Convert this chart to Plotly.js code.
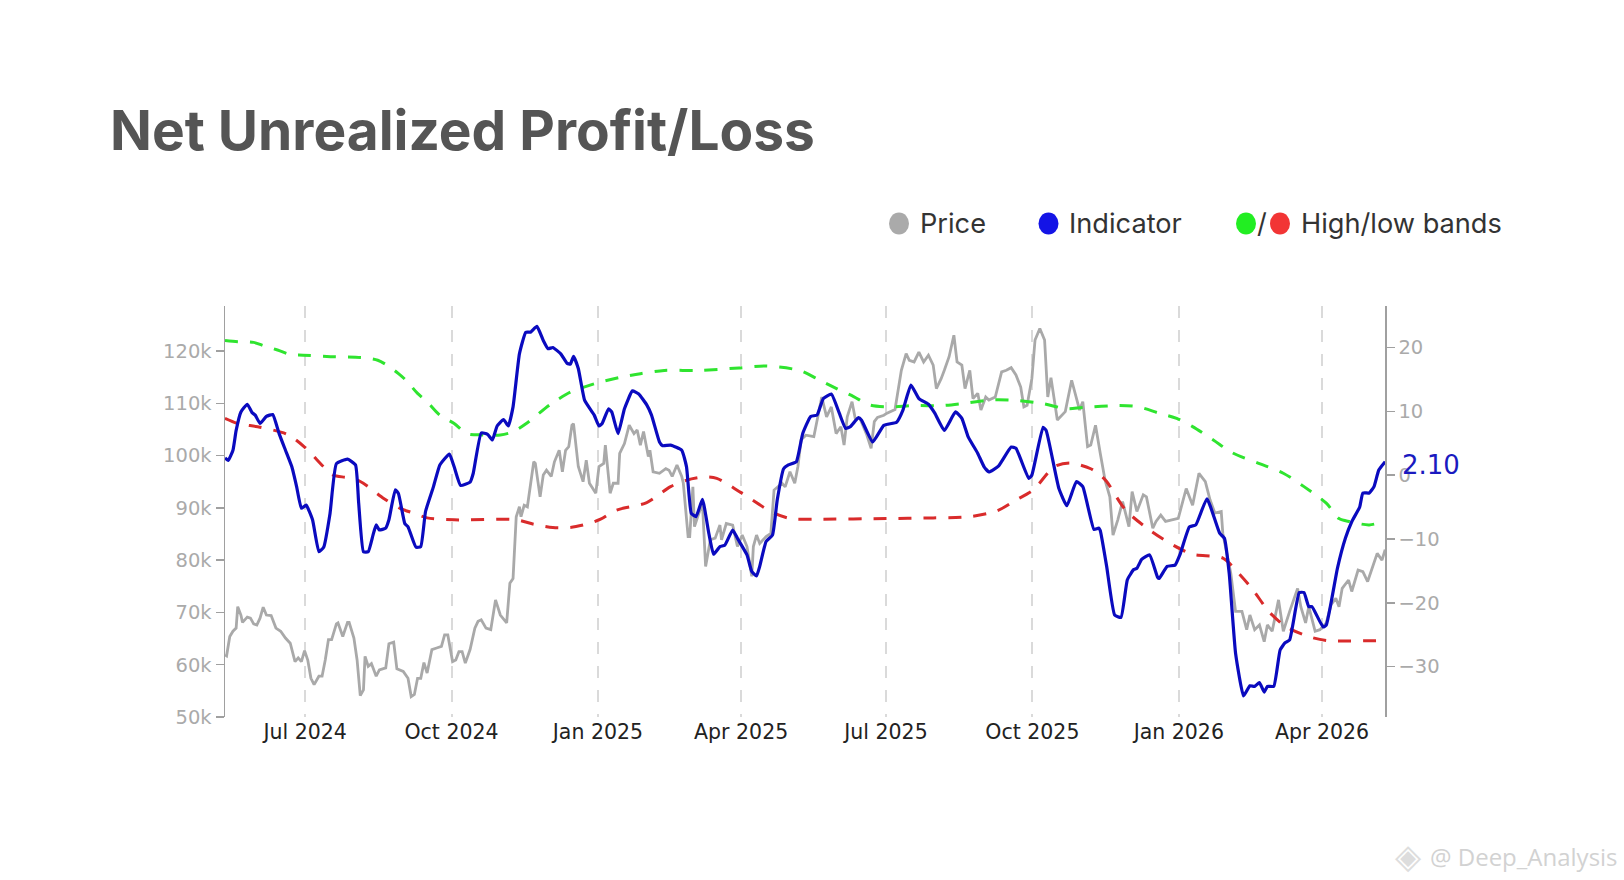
<!DOCTYPE html>
<html>
<head>
<meta charset="utf-8">
<script src="https://cdn.plot.ly/plotly-3.0.1.min.js"></script>
<style>html,body{margin:0;padding:0;background:#fff}</style>
</head>
<body>
<div id="chart" style="width:1624px;height:880px"></div>
<script>
// every point is [days since the first date, value]
const startDate = Date.UTC(2024, 4, 11, 16);
const pricePoints = [[0,61.9],[1,61.7],[3,65.4],[5,66.4],[7,67.0],[8,71.1],[10,69.5],[11,68.1],[14,69.1],[16,68.9],[18,67.8],[20,67.6],[22,68.9],[24,71.0],[26,69.5],[29,69.4],[32,67.0],[35,66.4],[38,65.1],[41,64.1],[44,60.6],[46,61.3],[48,60.6],[50,62.7],[52,60.9],[54,57.4],[56,56.2],[59,57.8],[61,57.8],[63,60.9],[65,64.8],[67,64.8],[70,67.8],[71,68.0],[74,65.4],[77,68.1],[78,68.1],[81,65.1],[83,60.9],[85,54.1],[87,55.2],[88,61.6],[90,59.7],[92,60.2],[93,59.4],[95,57.8],[97,59.0],[101,59.4],[103,64.0],[106,64.3],[108,59.2],[112,58.7],[115,57.4],[117,53.9],[119,54.3],[121,57.4],[123,57.4],[125,60.4],[127,58.4],[130,62.9],[133,63.2],[136,63.5],[138,65.7],[140,65.7],[143,60.6],[145,60.9],[147,62.5],[149,62.5],[151,60.3],[154,62.9],[157,67.0],[159,68.3],[161,68.6],[164,67.0],[167,66.7],[170,72.4],[173,69.5],[177,68.0],[179,75.6],[181,76.5],[183,88.3],[185,90.2],[186,88.3],[188,90.5],[190,90.2],[192,94.7],[194,98.8],[195,98.5],[198,92.1],[200,96.3],[202,97.2],[205,96.0],[207,98.8],[210,101.0],[212,96.9],[214,101.0],[216,101.7],[218,105.8],[219,106.1],[222,97.9],[225,95.0],[227,99.1],[229,94.7],[233,92.8],[235,97.9],[238,98.5],[239,102.0],[242,92.8],[244,94.7],[247,94.7],[248,100.4],[251,102.3],[252,103.6],[254,105.8],[257,104.2],[259,104.9],[261,102.0],[263,104.6],[266,99.8],[267,101.0],[269,96.9],[273,96.6],[277,97.5],[279,97.2],[281,96.0],[284,98.2],[287,96.0],[288,94.7],[291,84.5],[292,84.5],[294,94.0],[295,86.4],[297,88.3],[300,90.9],[302,78.8],[305,83.9],[308,84.2],[311,86.7],[312,83.9],[315,87.0],[319,86.7],[322,82.6],[325,84.8],[328,82.6],[331,76.9],[332,82.6],[334,84.8],[336,83.2],[340,84.5],[343,85.1],[345,93.4],[350,94.7],[352,94.0],[355,96.9],[358,94.7],[360,97.9],[362,103.0],[365,103.9],[370,103.6],[372,106.8],[375,111.2],[378,107.4],[381,109.3],[384,104.2],[387,105.5],[389,102.0],[391,107.4],[394,110.3],[396,107.1],[399,107.1],[403,104.2],[406,101.4],[408,106.5],[410,107.3],[414,107.7],[416,108.1],[421,108.8],[425,116.3],[428,119.5],[430,118.2],[433,117.9],[436,119.8],[439,117.9],[442,119.2],[445,117.3],[447,112.8],[450,114.7],[452,116.3],[455,118.9],[458,123.0],[460,117.9],[463,117.3],[465,112.8],[468,116.3],[470,110.9],[473,111.9],[475,108.7],[478,111.2],[480,110.6],[484,111.2],[488,116.0],[491,116.3],[494,116.8],[497,115.4],[500,113.1],[502,109.3],[504,109.6],[507,114.7],[509,122.1],[512,124.3],[515,122.1],[517,111.2],[519,114.9],[523,106.8],[528,108.4],[532,114.4],[537,108.7],[539,110.3],[542,101.7],[544,102.0],[547,105.8],[550,100.4],[553,95.3],[556,92.1],[558,84.8],[561,87.7],[564,91.2],[568,86.4],[570,93.1],[573,89.3],[577,92.5],[579,92.1],[583,86.1],[585,87.4],[588,88.6],[591,87.4],[595,87.7],[599,88.0],[604,93.7],[608,90.5],[612,96.6],[616,95.0],[619,91.5],[622,89.0],[626,89.3],[627,85.1],[632,77.5],[635,70.2],[639,70.2],[642,66.7],[644,69.5],[647,66.7],[650,67.6],[653,64.4],[655,67.6],[658,66.4],[662,72.4],[665,66.4],[669,70.2],[674,74.6],[676,71.1],[679,68.0],[681,71.1],[685,66.4],[688,66.7],[692,68.0],[695,71.5],[698,72.7],[700,71.1],[702,74.6],[706,76.2],[708,74.0],[712,78.1],[715,77.8],[718,75.9],[721,78.8],[724,81.3],[727,80.0],[729,82.0]];
const indicatorPoints = [[0,2.7],[2,2.3],[5,3.9],[7,7.0],[10,9.9],[14,11.1],[17,9.8],[19,9.4],[22,8.1],[26,9.2],[30,9.5],[34,6.5],[38,3.9],[42,1.3],[45,-1.8],[48,-5.2],[51,-4.7],[55,-7.0],[59,-12.0],[62,-11.3],[66,-6.0],[70,1.8],[77,2.5],[82,1.6],[84,-4.4],[87,-12.0],[90,-12.0],[93,-9.4],[95,-7.8],[97,-8.6],[101,-8.3],[103,-7.0],[107,-2.3],[109,-2.9],[113,-7.6],[115,-8.1],[120,-11.3],[123,-11.2],[126,-5.7],[131,-1.8],[135,1.6],[141,3.3],[144,1.3],[148,-1.6],[154,-1.1],[156,0.3],[161,6.6],[165,6.4],[168,5.5],[171,7.7],[175,8.7],[178,7.7],[181,10.7],[185,19.0],[189,22.4],[192,22.4],[196,23.3],[200,21.1],[203,19.8],[206,20.0],[211,19.0],[215,17.5],[217,17.4],[219,18.6],[222,16.7],[226,11.7],[232,9.4],[235,7.7],[237,8.1],[241,10.4],[243,9.9],[247,6.5],[251,10.4],[256,13.2],[260,12.7],[265,11.0],[268,9.4],[273,5.2],[275,4.6],[280,4.7],[287,3.9],[290,1.3],[293,-6.0],[296,-6.5],[300,-3.8],[304,-9.1],[307,-12.4],[311,-11.2],[314,-11.0],[319,-8.6],[322,-9.9],[328,-12.5],[331,-15.1],[334,-15.8],[336,-14.3],[340,-10.4],[344,-9.4],[347,-3.9],[351,1.0],[354,1.6],[359,2.1],[363,6.5],[368,9.2],[372,9.4],[376,12.0],[381,12.7],[386,9.7],[390,7.3],[393,7.6],[398,9.0],[400,8.6],[407,5.2],[414,7.8],[422,8.3],[426,10.2],[431,14.1],[436,12.0],[442,11.1],[446,9.7],[452,7.0],[459,9.9],[463,8.9],[467,6.0],[473,3.4],[477,1.3],[480,0.5],[486,1.4],[494,4.4],[497,4.2],[505,-0.5],[507,0.0],[514,7.5],[516,7.0],[524,-2.1],[529,-4.8],[535,-1.0],[539,-1.8],[546,-8.5],[549,-8.3],[550,-8.7],[554,-14.3],[559,-21.9],[563,-22.3],[567,-16.4],[571,-14.8],[573,-14.6],[576,-13.2],[581,-12.5],[586,-16.0],[587,-16.2],[592,-14.3],[597,-14.1],[600,-12.5],[606,-8.1],[610,-7.8],[617,-3.7],[625,-9.1],[628,-9.9],[631,-15.4],[635,-27.9],[640,-34.6],[644,-33.0],[647,-33.1],[650,-32.5],[653,-34.0],[655,-33.1],[659,-33.1],[663,-27.4],[666,-26.3],[669,-25.8],[675,-18.4],[678,-18.4],[681,-20.6],[683,-20.6],[690,-23.8],[692,-23.5],[699,-14.6],[704,-9.9],[708,-7.3],[713,-5.0],[715,-2.8],[719,-2.8],[722,-1.8],[725,0.8],[729,2.1]];
const highBandPoints = [[0,21.1],[8,20.9],[18,20.8],[24,20.3],[33,19.6],[41,18.9],[49,18.8],[64,18.6],[87,18.4],[96,18.0],[102,17.2],[109,15.9],[114,14.8],[121,12.8],[127,11.5],[135,9.4],[144,8.1],[152,6.5],[162,6.3],[173,6.3],[181,6.8],[190,8.2],[204,11.0],[217,13.0],[227,13.9],[236,14.6],[248,15.3],[261,15.9],[276,16.4],[298,16.4],[323,16.8],[340,17.1],[361,16.4],[372,15.1],[384,13.6],[395,12.3],[405,11.0],[418,10.7],[432,10.9],[451,10.9],[466,11.3],[483,11.8],[497,11.7],[514,11.2],[529,10.4],[539,10.6],[562,10.9],[574,10.7],[587,9.7],[598,8.9],[608,7.6],[621,5.5],[633,3.5],[650,1.8],[665,0.3],[678,-1.8],[692,-4.4],[700,-6.8],[707,-7.3],[719,-7.8],[729,-7.2]];
const lowBandPoints = [[0,8.9],[8,8.1],[22,7.5],[39,6.4],[50,4.4],[62,1.3],[68,0.0],[77,-0.4],[85,-1.0],[100,-3.7],[110,-5.2],[119,-6.0],[127,-6.7],[144,-7.0],[183,-7.0],[194,-7.7],[206,-8.2],[217,-8.2],[227,-7.7],[236,-6.9],[244,-5.7],[250,-5.2],[265,-4.3],[280,-1.8],[290,-0.8],[301,-0.3],[309,-0.5],[324,-2.7],[343,-5.7],[355,-6.8],[372,-6.9],[416,-6.8],[445,-6.7],[468,-6.5],[485,-5.6],[497,-3.9],[508,-2.3],[521,1.3],[531,1.9],[544,1.0],[550,0.0],[554,-1.0],[566,-5.5],[581,-8.6],[596,-11.0],[608,-12.4],[627,-13.0],[637,-15.4],[646,-18.0],[656,-21.4],[667,-23.8],[681,-25.3],[692,-25.9],[729,-25.9]];
const xTickDates = ['2024-07-01','2024-10-01','2025-01-01','2025-04-01','2025-07-01','2025-10-01','2026-01-01','2026-04-01'];
const xTickLabels = ['Jul 2024','Oct 2024','Jan 2025','Apr 2025','Jul 2025','Oct 2025','Jan 2026','Apr 2026'];
const lastIndicatorLabel = '2.10';

const W = 1624, H = 880;
const L = 225, R = 1385, T = 305.7, B = 717.3;
const iso = d => new Date(startDate + d * 864e5).toISOString().slice(0, 16).replace('T', ' ');
const xs = p => p.map(q => iso(q[0]));
const ys = p => p.map(q => q[1]);

const tickFont = {family: 'DejaVu Sans', size: 19.5, color: '#aaaaaa'};
const line = (pts, axis, color, width, dash, smooth) => ({
  x: xs(pts), y: ys(pts), yaxis: axis, type: 'scatter', mode: 'lines',
  line: {color, width, dash: dash || 'solid', shape: smooth ? 'spline' : 'linear', smoothing: smooth || 0}, hoverinfo: 'skip'
});
const traces = [
  line(pricePoints, 'y', '#a9a9a9', 2.8),
  line(highBandPoints, 'y2', '#2fe42f', 3, '13px,12px', 0.8),
  line(lowBandPoints, 'y2', '#d92b2b', 3, '13px,12px', 0.8),
  line(indicatorPoints, 'y2', '#0a0abf', 3.2, 'solid', 0.4)
];

const px = x => x / W, py = y => 1 - y / H;
const dot = (cx, cy, color) => ({
  type: 'circle', xref: 'paper', yref: 'paper', layer: 'above',
  x0: (cx - 10 - L) / (R - L), x1: (cx + 10 - L) / (R - L),
  y0: (B - cy - 11) / (B - T), y1: (B - cy + 11) / (B - T),
  fillcolor: color, line: {width: 0}
});
const pageText = (text, x, y, size, color, anchor, family) => ({
  text, xref: 'paper', yref: 'paper', showarrow: false,
  x: (x - L) / (R - L), y: (B - y) / (B - T),
  xanchor: anchor || 'left', yanchor: 'middle',
  font: {family: family || 'Inter', size, color}
});

const layout = {
  width: W, height: H, autosize: false, showlegend: false,
  paper_bgcolor: '#fff', plot_bgcolor: '#fff',
  margin: {l: L, r: W - R, t: T, b: H - B, pad: 0},
  title: {text: 'Net Unrealized Profit/Loss', x: px(110), xanchor: 'left', y: py(130.5), yanchor: 'middle',
    font: {family: 'Inter', size: 55, weight: 700, color: '#555555'}},
  xaxis: {type: 'date', range: [iso(0), iso(728.9)], tickmode: 'array', tickvals: xTickDates, ticktext: xTickLabels,
    showgrid: true, gridcolor: '#dadada', gridwidth: 2, griddash: '12px,12px', zeroline: false,
    showline: false, ticks: '', tickfont: {family: 'DejaVu Sans', size: 20.5, color: '#222222'}, tickangle: 0},
  yaxis: {range: [50, 128.6], tickmode: 'linear', tick0: 50, dtick: 10, ticksuffix: 'k', showgrid: false, zeroline: false,
    showline: true, linecolor: '#a0a0a0', linewidth: 1.5, ticks: 'outside', ticklen: 8, tickcolor: '#a0a0a0', tickwidth: 1.5, tickfont: tickFont},
  yaxis2: {range: [-37.9, 26.5], overlaying: 'y', side: 'right', tickmode: 'linear', tick0: -30, dtick: 10, showgrid: false, zeroline: false,
    showline: true, linecolor: '#a0a0a0', linewidth: 1.5, ticks: 'outside', ticklen: 8, tickcolor: '#a0a0a0', tickwidth: 1.5, tickfont: tickFont},
  shapes: [dot(899, 223, '#aaaaaa'), dot(1048.5, 223, '#1414e6'), dot(1246, 223, '#22ee22'), dot(1280, 223, '#f23535')],
  annotations: [
    pageText('Price', 917.5, 222.7, 27.2, '#333333'),
    pageText('Indicator', 1067, 222.7, 27.2, '#333333'),
    pageText('/', 1262, 222.7, 27.2, '#333333', 'center'),
    pageText('High/low bands', 1299, 222.7, 27.2, '#333333'),
    pageText(lastIndicatorLabel, 1400, 465, 26, '#1a1ac0', 'left', 'DejaVu Sans'),
    pageText('◈', 1393, 857, 34, '#dddddd', 'left', 'DejaVu Sans'),
    pageText('@ Deep_Analysis', 1428, 857, 24, '#d2d2d2', 'left', 'Open Sans')
  ]
};
Plotly.newPlot('chart', traces, layout, {staticPlot: true, displayModeBar: false});
</script>
</body>
</html>
